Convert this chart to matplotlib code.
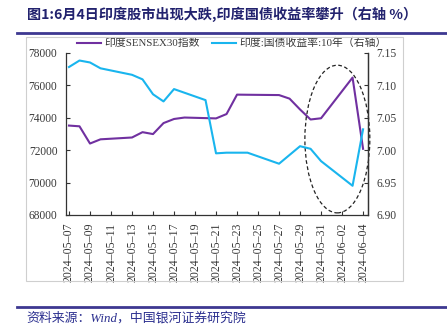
import matplotlib
matplotlib.use("Agg")
import matplotlib.pyplot as plt
import matplotlib.dates as mdates
from matplotlib.patches import Ellipse, Rectangle
from matplotlib.lines import Line2D
import pandas as pd

plt.rcParams['font.family'] = ['Liberation Serif', 'Noto Sans CJK SC', 'DejaVu Sans']

# SENSEX30 (left axis)
sensex_dates = ['2024-05-07', '2024-05-08', '2024-05-09', '2024-05-10', '2024-05-13',
                '2024-05-14', '2024-05-15', '2024-05-16', '2024-05-17', '2024-05-18',
                '2024-05-21', '2024-05-22', '2024-05-23', '2024-05-24', '2024-05-27',
                '2024-05-28', '2024-05-29', '2024-05-30', '2024-05-31', '2024-06-03',
                '2024-06-04']
sensex = [73511, 73466, 72404, 72664, 72776, 73105, 72987, 73664, 73917, 74006,
          73953, 74221, 75418, 75410, 75391, 75171, 74503, 73886, 73961, 76469,
          72079]

# 10Y government bond yield (right axis)
bond_dates = ['2024-05-07', '2024-05-08', '2024-05-09', '2024-05-10', '2024-05-13',
              '2024-05-14', '2024-05-15', '2024-05-16', '2024-05-17', '2024-05-20',
              '2024-05-21', '2024-05-22', '2024-05-23', '2024-05-24', '2024-05-27',
              '2024-05-29', '2024-05-30', '2024-05-31', '2024-06-03', '2024-06-04']
bond = [7.128, 7.138, 7.135, 7.126, 7.116, 7.109, 7.086, 7.075, 7.094, 7.077,
        6.995, 6.996, 6.996, 6.996, 6.979, 7.006, 7.002, 6.983, 6.945, 7.032]

label_sensex = '印度SENSEX30指数'
label_bond = '印度:国债收益率:10年（右轴）'
title = '图1:6月4日印度股市出现大跌,印度国债收益率攀升（右轴 %）'
source = '资料来源：Wind，中国银河证券研究院'

purple = '#7030A0'
cyan = '#19B5EE'
navy = '#22226E'
tick_col = '#3A3A3A'

fig = plt.figure(figsize=(4.47, 3.30), dpi=100)

# frame / decoration
fig.add_artist(Rectangle((0.0575, 0.1485), 0.844, 0.74, transform=fig.transFigure,
                         fill=False, ec='#CFCFCF', lw=0.8))
fig.add_artist(Line2D([0.038, 1.0], [0.9, 0.9], transform=fig.transFigure,
                      color='#3D3891', lw=2.0))
fig.add_artist(Line2D([0.038, 1.0], [0.0697, 0.0697], transform=fig.transFigure,
                      color='#3D3891', lw=2.0))
fig.text(0.060, 0.957, title, fontsize=10.2, fontweight='bold', color=navy,
         family=['Noto Sans CJK SC', 'DejaVu Sans'], ha='left', va='center')
fig.text(0.060, 0.036, source, fontsize=9.3, style='italic', color='#2B2F8F',
         ha='left', va='center')

ax = fig.add_axes([0.147, 0.3485, 0.676, 0.4917])
ax2 = ax.twinx()

x1 = pd.to_datetime(sensex_dates)
x2 = pd.to_datetime(bond_dates)
l1, = ax.plot(x1, sensex, color=purple, lw=1.5)
l2, = ax2.plot(x2, bond, color=cyan, lw=1.5)

ax.set_ylim(68000, 78000)
ax.set_yticks(range(68000, 78001, 2000))
ax2.set_ylim(6.90, 7.15)
ax2.set_yticks([6.90, 6.95, 7.00, 7.05, 7.10, 7.15])
ax2.yaxis.set_major_formatter(plt.FormatStrFormatter('%.2f'))

start = pd.Timestamp('2024-05-07')
ax.set_xlim(start - pd.Timedelta(hours=7.5), pd.Timestamp('2024-06-04') + pd.Timedelta(hours=11))
ax.set_xticks(pd.date_range('2024-05-07', '2024-06-04', freq='2D'))
ax.xaxis.set_major_formatter(mdates.DateFormatter('%Y–%m–%d'))

for a in (ax, ax2):
    a.spines['top'].set_visible(False)
    for s in a.spines.values():
        s.set_color('#333333')
        s.set_linewidth(0.9)
    a.tick_params(direction='in', length=3, width=0.8, colors='#333333',
                  labelcolor=tick_col, labelsize=8.3, pad=6)
ax.tick_params(axis='x', rotation=90, pad=5.5, labelsize=8.6)
ax2.spines['left'].set_visible(False)
ax2.spines['bottom'].set_visible(False)

ell = Ellipse((0.899, 0.468), 0.215, 0.91, transform=ax.transAxes, fill=False,
              ec='#222222', ls=(0, (3, 2)), lw=0.9, clip_on=False)
ax2.add_patch(ell)

ax.legend([l1, l2], [label_sensex, label_bond], loc='lower center',
          bbox_to_anchor=(0.55, 1.014), ncol=2, frameon=False, fontsize=7.8,
          handlelength=2.2, handletextpad=0.3, columnspacing=1.2,
          labelcolor=tick_col, borderaxespad=0, borderpad=0.2)

fig.savefig('out.png', dpi=100)
